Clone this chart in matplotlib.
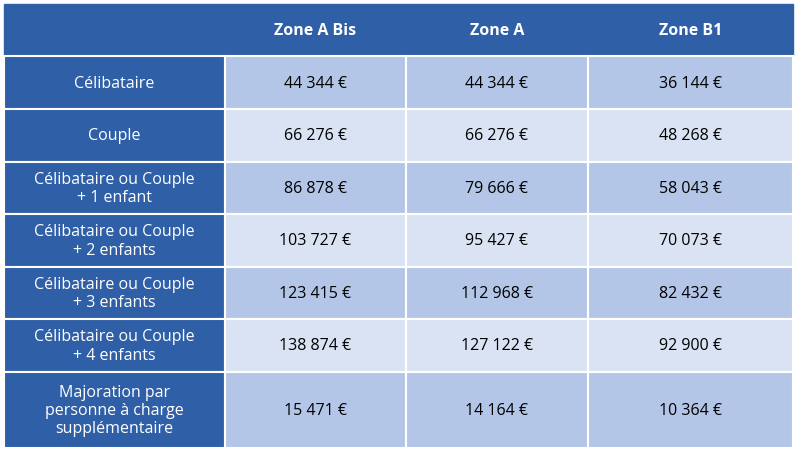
import matplotlib.pyplot as plt
from matplotlib.patches import Rectangle

columns = ['Zone A Bis', 'Zone A', 'Zone B1']
row_labels = ['Célibataire', 'Couple', 'Célibataire ou Couple\n+ 1 enfant',
              'Célibataire ou Couple\n+ 2 enfants', 'Célibataire ou Couple\n+ 3 enfants',
              'Célibataire ou Couple\n+ 4 enfants',
              'Majoration par\npersonne à charge\nsupplémentaire']
zone_a_bis = ['44 344 €', '66 276 €', '86 878 €', '103 727 €', '123 415 €', '138 874 €', '15 471 €']
zone_a = ['44 344 €', '66 276 €', '79 666 €', '95 427 €', '112 968 €', '127 122 €', '14 164 €']
zone_b1 = ['36 144 €', '48 268 €', '58 043 €', '70 073 €', '82 432 €', '92 900 €', '10 364 €']

dark = '#2F5FA7'
light = ['#B4C6E7', '#DAE3F3']
col_x = [4, 225, 406, 588, 793]
row_y = [5, 57, 110, 163, 215, 268, 320, 373, 449]

fig = plt.figure(figsize=(7.97, 4.52), dpi=100)
ax = fig.add_axes([0, 0, 1, 1])
ax.set_xlim(0, 797)
ax.set_ylim(452, 0)
ax.axis('off')
font = 'Open Sans'

# header
ax.add_patch(Rectangle((col_x[0], row_y[0]), col_x[-1] - col_x[0], row_y[1] - row_y[0], color=dark))
for j, name in enumerate(columns):
    ax.text((col_x[j + 1] + col_x[j + 2]) / 2, (row_y[0] + row_y[1]) / 2, name, color='white',
            fontsize=11.5, fontweight='bold', ha='center', va='center', family=font)

values = list(zip(zone_a_bis, zone_a, zone_b1))
for i, label in enumerate(row_labels):
    y0, y1 = row_y[i + 1], row_y[i + 2]
    ax.add_patch(Rectangle((col_x[0], y0), col_x[1] - col_x[0], y1 - y0, facecolor=dark,
                           edgecolor='white', lw=1.5))
    ax.text((col_x[0] + col_x[1]) / 2, (y0 + y1) / 2, label, color='white', fontsize=11.5,
            ha='center', va='center', family=font, linespacing=1.2)
    for j, v in enumerate(values[i]):
        ax.add_patch(Rectangle((col_x[j + 1], y0), col_x[j + 2] - col_x[j + 1], y1 - y0,
                               facecolor=light[i % 2], edgecolor='white', lw=1.5))
        ax.text((col_x[j + 1] + col_x[j + 2]) / 2, (y0 + y1) / 2, v, color='black', fontsize=11.5,
                ha='center', va='center', family=font)

fig.savefig('out.png', dpi=100, facecolor='white')
